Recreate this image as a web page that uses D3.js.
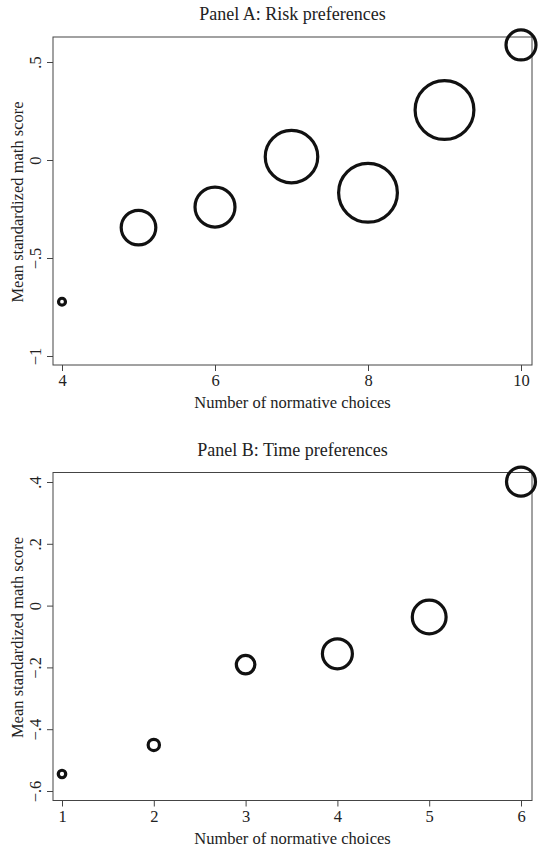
<!DOCTYPE html>
<html>
<head>
<meta charset="utf-8">
<script src="https://cdn.jsdelivr.net/npm/d3@7"></script>
<style>
  body { margin: 0; background: #fff; }
  svg text { font-family: "Liberation Serif", "DejaVu Serif", serif; fill: #222; }
</style>
</head>
<body>
<div id="chart"></div>
<script>
// Panel A: risk preferences
const riskChoices = [4, 5, 6, 7, 8, 9, 10];
const riskScores = [-0.723, -0.345, -0.240, 0.017, -0.167, 0.255, 0.587];
const riskCounts = [12, 300, 400, 690, 865, 865, 225];
const riskXTicks = [4, 6, 8, 10];
const riskYTicks = [-1, -0.5, 0, 0.5];
const riskYTickLabels = ["\u22121", "\u2212.5", "0", ".5"];

// Panel B: time preferences
const timeChoices = [1, 2, 3, 4, 5, 6];
const timeScores = [-0.545, -0.451, -0.191, -0.156, -0.037, 0.401];
const timeCounts = [14, 32, 86, 225, 286, 210];
const timeXTicks = [1, 2, 3, 4, 5, 6];
const timeYTicks = [-0.6, -0.4, -0.2, 0, 0.2, 0.4];
const timeYTickLabels = ["\u2212.6", "\u2212.4", "\u2212.2", "0", ".2", ".4"];

const width = 539;
const height = 851;

const svg = d3.select("#chart").append("svg")
  .attr("width", width)
  .attr("height", height)
  .attr("viewBox", `0 0 ${width} ${height}`);

// bubble area proportional to count, shared across panels
const rScale = d3.scaleSqrt().domain([0, 865]).range([0, 29.4]);

function drawPanel(opts) {
  const g = svg.append("g").attr("transform", `translate(0, ${opts.top})`);
  const frame = { left: 53, right: 532, top: 37, bottom: 365 };

  const x = d3.scaleLinear().domain(opts.xDomain).range([62, 521]);
  const y = d3.scaleLinear().domain(opts.yDomain).range(opts.yRange);

  g.append("text")
    .attr("x", (frame.left + frame.right) / 2)
    .attr("y", 20)
    .attr("text-anchor", "middle")
    .style("font-size", "18px")
    .text(opts.title);

  g.append("rect")
    .attr("x", frame.left)
    .attr("y", frame.top)
    .attr("width", frame.right - frame.left)
    .attr("height", frame.bottom - frame.top)
    .attr("fill", "none")
    .attr("stroke", "#444")
    .attr("stroke-width", 1);

  const xAxis = g.append("g")
    .attr("transform", `translate(0, ${frame.bottom})`)
    .call(d3.axisBottom(x).tickValues(opts.xTicks).tickSize(6).tickFormat(d3.format("d")));
  xAxis.select(".domain").remove();
  xAxis.selectAll("line").attr("stroke", "#444");
  xAxis.selectAll("text")
    .attr("dy", null)
    .attr("y", 21)
    .style("font-size", "16.5px")
    .attr("fill", "#222");

  const yAxis = g.append("g")
    .attr("transform", `translate(${frame.left}, 0)`)
    .call(d3.axisLeft(y).tickValues(opts.yTicks).tickSize(6)
      .tickFormat((d, i) => opts.yTickLabels[i]));
  yAxis.select(".domain").remove();
  yAxis.selectAll("line").attr("stroke", "#444");
  yAxis.selectAll("text")
    .attr("transform", "rotate(-90)")
    .attr("text-anchor", "middle")
    .attr("x", 0)
    .attr("dy", null)
    .attr("y", -12)
    .style("font-size", "16.5px")
    .attr("fill", "#222");

  g.append("text")
    .attr("x", (frame.left + frame.right) / 2)
    .attr("y", 408)
    .attr("text-anchor", "middle")
    .style("font-size", "16.5px")
    .text("Number of normative choices");

  g.append("text")
    .attr("transform", `translate(23, ${(frame.top + frame.bottom) / 2 + 1}) rotate(-90)`)
    .attr("text-anchor", "middle")
    .style("font-size", "16.5px")
    .text("Mean standardized math score");

  const points = opts.xs.map((v, i) => ({ x: v, y: opts.ys[i], n: opts.ns[i] }));

  g.selectAll(".bubble")
    .data(points)
    .enter()
    .append("circle")
    .attr("class", "bubble")
    .attr("cx", d => x(d.x))
    .attr("cy", d => y(d.y))
    .attr("r", d => rScale(d.n))
    .attr("fill", "none")
    .attr("stroke", "#111")
    .attr("stroke-width", 3.2);
}

drawPanel({
  top: 0,
  title: "Panel A: Risk preferences",
  xs: riskChoices, ys: riskScores, ns: riskCounts,
  xDomain: [4, 10], xTicks: riskXTicks,
  yDomain: [-1, 0.5], yRange: [356, 62],
  yTicks: riskYTicks, yTickLabels: riskYTickLabels
});

drawPanel({
  top: 435.5,
  title: "Panel B: Time preferences",
  xs: timeChoices, ys: timeScores, ns: timeCounts,
  xDomain: [1, 6], xTicks: timeXTicks,
  yDomain: [-0.6, 0.4], yRange: [355.5, 46.5],
  yTicks: timeYTicks, yTickLabels: timeYTickLabels
});
</script>
</body>
</html>
